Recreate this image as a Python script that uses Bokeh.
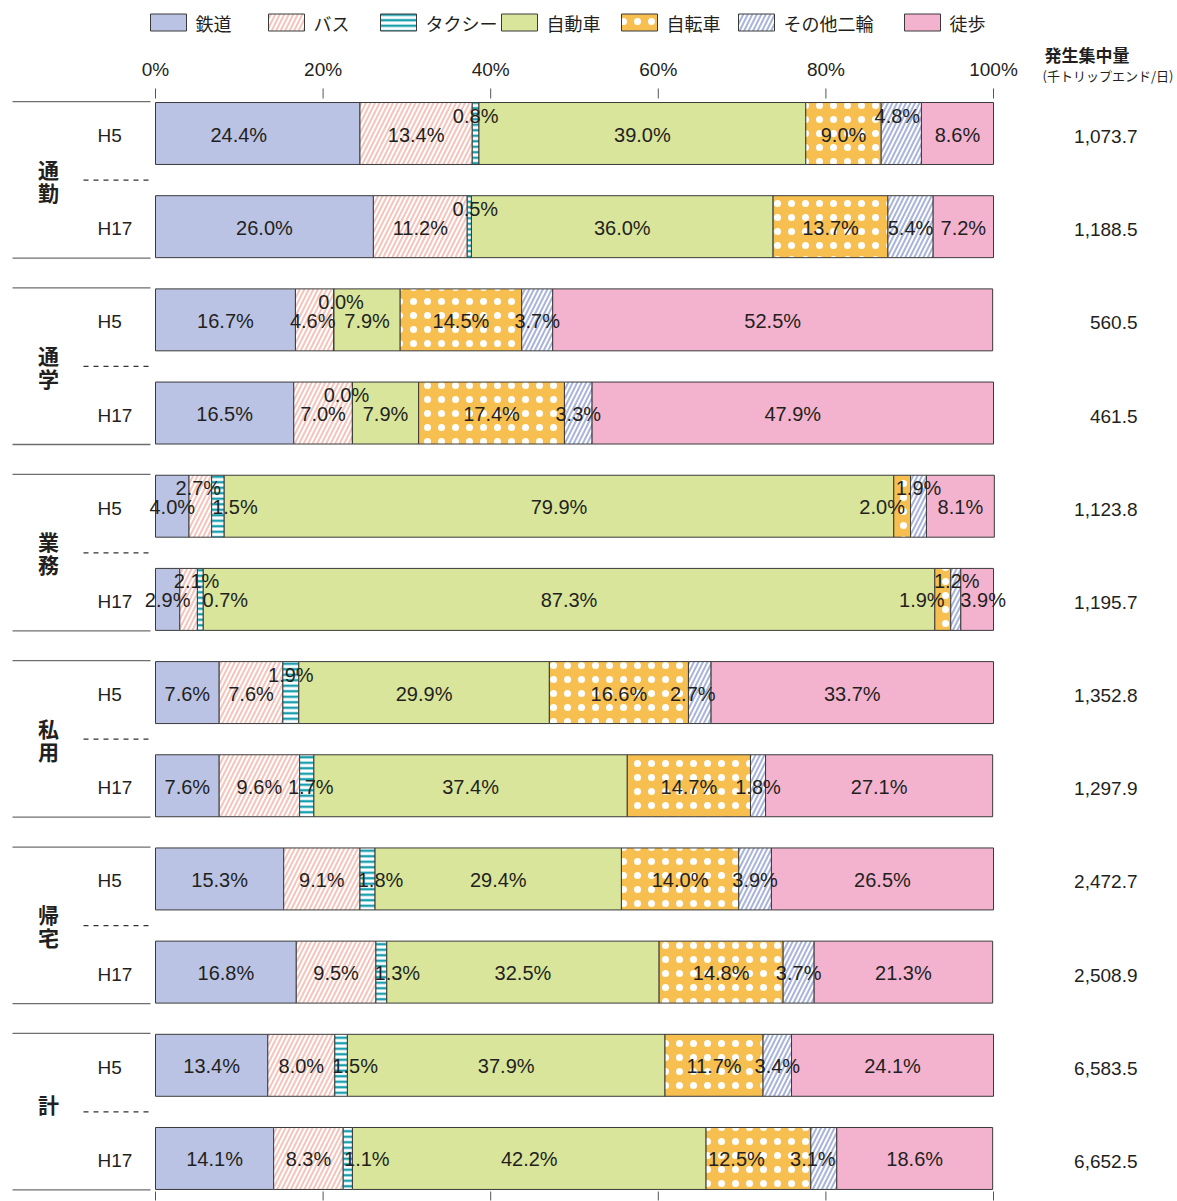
from bokeh.plotting import figure
from bokeh.models import Range1d, ColumnDataSource
from bokeh.core.properties import value
from bokeh.embed import file_html
from bokeh.resources import INLINE

# ---------------- data ----------------
modes = ["鉄道", "バス", "タクシー", "自動車", "自転車", "その他二輪", "徒歩"]
groups = ["通勤", "通学", "業務", "私用", "帰宅", "計"]
years = ["H5", "H17"]

rail = [24.4, 26.0, 16.7, 16.5, 4.0, 2.9, 7.6, 7.6, 15.3, 16.8, 13.4, 14.1]
bus = [13.4, 11.2, 4.6, 7.0, 2.7, 2.1, 7.6, 9.6, 9.1, 9.5, 8.0, 8.3]
taxi = [0.8, 0.5, 0.0, 0.0, 1.5, 0.7, 1.9, 1.7, 1.8, 1.3, 1.5, 1.1]
car = [39.0, 36.0, 7.9, 7.9, 79.9, 87.3, 29.9, 37.4, 29.4, 32.5, 37.9, 42.2]
bike = [9.0, 13.7, 14.5, 17.4, 2.0, 1.9, 16.6, 14.7, 14.0, 14.8, 11.7, 12.5]
moto = [4.8, 5.4, 3.7, 3.3, 1.9, 1.2, 2.7, 1.8, 3.9, 3.7, 3.4, 3.1]
walk = [8.6, 7.2, 52.5, 47.9, 8.1, 3.9, 33.7, 27.1, 26.5, 21.3, 24.1, 18.6]

totals = ["1,073.7", "1,188.5", "560.5", "461.5", "1,123.8", "1,195.7",
          "1,352.8", "1,297.9", "2,472.7", "2,508.9", "6,583.5", "6,652.5"]

tick_values = [0, 20, 40, 60, 80, 100]
tick_labels = ["0%", "20%", "40%", "60%", "80%", "100%"]

series = [rail, bus, taxi, car, bike, moto, walk]

# ---------------- styles ----------------
styles = [
    dict(fill_color="#BAC3E3"),
    dict(fill_color="white", hatch_pattern="right_diagonal_line", hatch_color="#F5C4BC", hatch_scale=9, hatch_weight=2),
    dict(fill_color="white", hatch_pattern="horizontal_line", hatch_color="#1A9FAE", hatch_scale=5.5, hatch_weight=2.4),
    dict(fill_color="#D8E59A"),
    dict(fill_color="#F6BF4F", hatch_pattern="dot", hatch_color="white", hatch_scale=14, hatch_weight=4),
    dict(fill_color="white", hatch_pattern="right_diagonal_line", hatch_color="#A9B4DB", hatch_scale=9, hatch_weight=2),
    dict(fill_color="#F3B3CF"),
]

# label nudges in pixels: (row, mode) -> (dx, dy)
nudges = {
    (0, 0): (-19, 0), (0, 2): (0, -19), (0, 5): (-4, -19),
    (1, 2): (6, -19),
    (2, 2): (7, -19), (2, 1): (-2, 0),
    (3, 2): (-6, -19),
    (4, 1): (-2, -19), (4, 2): (17, 0), (4, 4): (-20, 0), (4, 5): (0, -19),
    (5, 1): (8, -19), (5, 2): (25, 0), (5, 4): (-21, 0), (5, 5): (1, -19), (5, 6): (6, 0),
    (6, 2): (0, -19), (6, 5): (-7, 0),
    (7, 2): (4, 0),
    (8, 2): (13, 0),
    (9, 2): (16, 0),
    (10, 2): (14, 0),
    (11, 2): (19, 0), (11, 4): (-22, 0), (11, 5): (-11, 0),
}

# ---------------- layout helpers ----------------
W, H = 1177, 1201
PX_PER_PCT = 8.38       # page pixels per percent
X0_PAGE = 155           # page x of 0 %
ROW0_PAGE = 133         # page y of first bar centre
ROW_STEP = 93.18        # page pixels per row
BAR_H = 0.665


def px(page_x):
    return (page_x - X0_PAGE) / PX_PER_PCT


def py(page_y):
    return (page_y - ROW0_PAGE) / ROW_STEP


p = figure(width=W, height=H, output_backend="svg", toolbar_location=None,
           x_range=Range1d(px(0), px(W)), y_range=Range1d(py(H), py(0)),
           x_axis_location=None, y_axis_location=None, min_border=0)
p.outline_line_color = None
p.xgrid.visible = False
p.ygrid.visible = False
p.background_fill_color = "white"

n_rows = len(rail)
rows = list(range(n_rows))

LATIN = value("Liberation Sans")
CJK = value("Noto Sans CJK JP")

# ---------------- bars ----------------
left = [0.0] * n_rows
lab_x, lab_y, lab_t, lab_dx, lab_dy = [], [], [], [], []
for m, vals in enumerate(series):
    right = [l + v for l, v in zip(left, vals)]
    p.hbar(y=rows, left=left, right=right, height=BAR_H,
           line_color="#3a3a3a", line_width=1, **styles[m])
    for r in rows:
        dx, dy = nudges.get((r, m), (0, 0))
        lab_x.append((left[r] + right[r]) / 2)
        lab_y.append(r)
        lab_t.append(f"{vals[r]:.1f}%")
        lab_dx.append(dx)
        lab_dy.append(dy + 1)
    left = right

lab_src = ColumnDataSource(dict(x=lab_x, y=lab_y, t=lab_t, dx=lab_dx, dy=lab_dy))
p.text(x="x", y="y", text="t", x_offset="dx", y_offset="dy", source=lab_src,
       text_font=LATIN, text_font_size="20px", text_color="#231F20",
       text_align="center", text_baseline="middle")

# ---------------- top / bottom ticks ----------------
p.segment(x0=tick_values, x1=tick_values, y0=[py(88)] * 6, y1=[py(98)] * 6,
          line_color="#555555", line_width=1)
p.segment(x0=tick_values, x1=tick_values, y0=[py(1191)] * 6, y1=[py(1200)] * 6,
          line_color="#555555", line_width=1)
p.text(x=tick_values, y=[py(69)] * 6, text=tick_labels, text_font=LATIN,
       text_font_size="19px", text_color="#231F20", text_align="center",
       text_baseline="middle")

# ---------------- left labels ----------------
p.text(x=[px(97)] * n_rows, y=rows, text=[years[r % 2] for r in rows],
       y_offset=2, text_font=LATIN, text_font_size="19px", text_color="#231F20",
       text_align="left", text_baseline="middle")

n_groups = len(groups)
g_mid = [2 * g + 0.5 for g in range(n_groups)]

gc_x, gc_y, gc_t, gc_dy = [], [], [], []
for g, name in enumerate(groups):
    k = len(name)
    for j, ch in enumerate(name):
        gc_x.append(px(48))
        gc_y.append(g_mid[g])
        gc_t.append(ch)
        gc_dy.append((j - (k - 1) / 2) * 23 - (8 if k == 1 else 0))
p.text(x=gc_x, y=gc_y, text=gc_t, y_offset=gc_dy,
       text_font=CJK, text_font_style="bold", text_font_size="21px",
       text_color="#231F20", text_align="center", text_baseline="middle")

# separators
sep_y = []
for g in range(n_groups):
    sep_y.append(2 * g - BAR_H / 2 - 0.01)
    sep_y.append(2 * g + 1 + BAR_H / 2 + 0.005)
p.segment(x0=[px(12)] * len(sep_y), x1=[px(150)] * len(sep_y), y0=sep_y, y1=sep_y,
          line_color="#6e6e6e", line_width=1.3)
p.segment(x0=[px(83)] * n_groups, x1=[px(150)] * n_groups, y0=g_mid, y1=g_mid,
          line_color="#333333", line_width=1.2, line_dash="5 5")

# ---------------- right column ----------------
p.text(x=[px(1137)] * n_rows, y=rows, text=totals, y_offset=3, text_font=LATIN,
       text_font_size="19px", text_color="#231F20", text_align="right",
       text_baseline="middle")
p.text(x=[px(1044)], y=[py(54)], text=["発生集中量"], text_font=CJK,
       text_font_style="bold", text_font_size="17px", text_color="#231F20",
       text_align="left", text_baseline="middle")
p.text(x=[px(1042)], y=[py(75)], text=["(千トリップエンド/日)"], text_font=CJK,
       text_font_size="13px", text_color="#231F20", text_align="left",
       text_baseline="middle")

# ---------------- legend ----------------
leg_sw_left = [150, 268, 380, 501, 621, 738, 904]
leg_sw_w = 36
leg_y = py(22)
leg_h = 17 / ROW_STEP
for m in range(len(modes)):
    lx = leg_sw_left[m]
    p.rect(x=[px(lx + leg_sw_w / 2)], y=[leg_y], width=leg_sw_w / PX_PER_PCT,
           height=leg_h, line_color="#3a3a3a", line_width=1, **styles[m])
p.text(x=[px(lx + leg_sw_w + 9) for lx in leg_sw_left], y=[leg_y] * len(modes),
       text=modes, text_font=CJK, text_font_size="18px", text_color="#231F20",
       text_align="left", text_baseline="middle")

open("out.html", "w").write(file_html(p, INLINE))
